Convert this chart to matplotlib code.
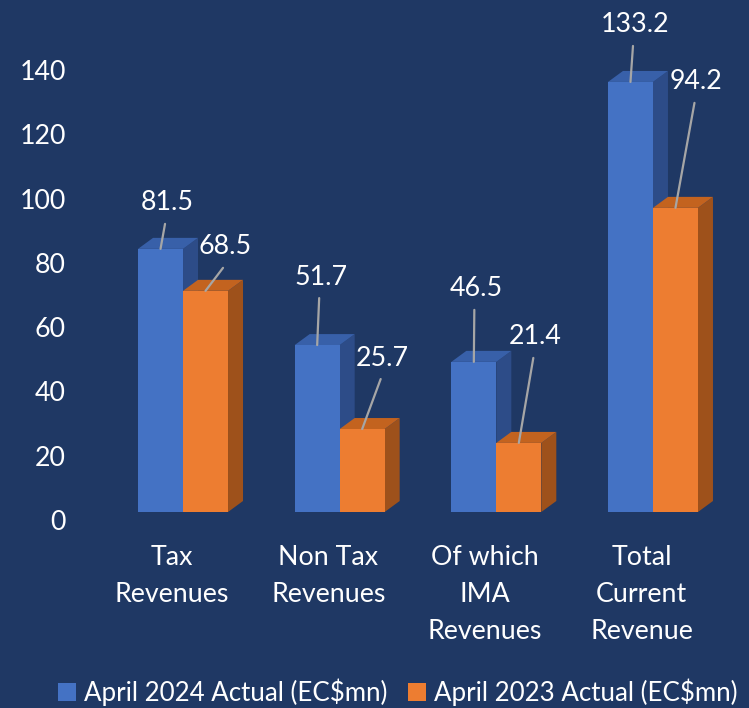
import matplotlib
matplotlib.use("Agg")
import matplotlib.pyplot as plt
from matplotlib.patches import Polygon, Patch

plt.rcParams['font.family'] = ['Lato', 'DejaVu Sans']

categories = ["Tax\nRevenues", "Non Tax\nRevenues", "Of which\nIMA\nRevenues", "Total\nCurrent\nRevenue"]
series_names = ["April 2024 Actual (EC$mn)", "April 2023 Actual (EC$mn)"]
values_2024 = [81.5, 51.7, 46.5, 133.2]
values_2023 = [68.5, 25.7, 21.4, 94.2]
yticks = [0, 20, 40, 60, 80, 100, 120, 140]

# label offsets in pixels (text centre relative to bar front-top centre)
off_2024 = [(6.5, 46), (4, 68), (2.5, 73), (4.5, 57)]
off_2023 = [(19.5, 44), (20.5, 71), (16.5, 106), (21, 126)]

BG = '#1F3864'
front = ['#4472C4', '#ED7D31']
top = ['#3860A9', '#C3631F']
side = ['#2D4C88', '#9E511B']
TXT = 'white'
FS = 19.3
LFS = 18.6

W, H = 749, 708
fig = plt.figure(figsize=(W / 100, H / 100), dpi=100, facecolor=BG)

ax_left, ax_right = 104.7, 731.3
ax_bot, ax_top = 512, 60
ax = fig.add_axes([ax_left / W, 1 - ax_bot / H, (ax_right - ax_left) / W, (ax_bot - ax_top) / H])
ax.set_facecolor('none')
ax.set_xlim(-0.5, 3.5)
ax.set_ylim(0, 140)
for s in ax.spines.values():
    s.set_visible(False)
ax.set_yticks([])

bw = 45 / 156.67
ddx = 15 / 156.67
ddy = 11 / 3.229

xs = list(range(len(categories)))
for si, vals in enumerate([values_2024, values_2023]):
    for i, v in enumerate(vals):
        x0 = i - bw + si * bw
        x1 = x0 + bw
        z = 2 + si * 3
        ax.add_patch(Polygon([(x1, 0), (x1 + ddx, ddy), (x1 + ddx, v + ddy), (x1, v)],
                             closed=True, facecolor=side[si], edgecolor='none', zorder=z))
        ax.add_patch(Polygon([(x0, v), (x1, v), (x1 + ddx, v + ddy), (x0 + ddx, v + ddy)],
                             closed=True, facecolor=top[si], edgecolor='none', zorder=z + 1))
    pos = [i - bw / 2 + si * bw for i in xs]
    ax.bar(pos, vals, width=bw, color=front[si], edgecolor='none', zorder=4 + si * 3)

# data labels with leader lines
for si, (vals, offs) in enumerate([(values_2024, off_2024), (values_2023, off_2023)]):
    for i, (v, (ox, oy)) in enumerate(zip(vals, offs)):
        xa = i - bw / 2 + si * bw
        ax.annotate('', xy=(xa, v), xytext=(ox - 2, oy - 21), textcoords='offset pixels',
                    arrowprops=dict(arrowstyle='-', color='#A6A6A6', lw=1.6,
                                    shrinkA=0, shrinkB=0), zorder=10)
        ax.annotate(f'{v}', xy=(xa, v), xytext=(ox, oy), textcoords='offset pixels',
                    ha='center', va='center', color=TXT, fontsize=FS, zorder=11,
                    annotation_clip=False)

ax.set_xticks([i - 0.073 for i in xs])
ax.set_xticklabels(categories, color=TXT, fontsize=FS, linespacing=1.6, va='top')
ax.tick_params(axis='x', length=0, pad=24)

# y tick labels on the wall scale
ax_t = fig.add_axes([ax_left / W, 1 - 520 / H, 0.01, 450 / H])
ax_t.set_facecolor('none')
for s in ax_t.spines.values():
    s.set_visible(False)
ax_t.set_ylim(0, 140)
ax_t.set_xticks([])
ax_t.set_yticks(yticks)
ax_t.set_yticklabels([str(t) for t in yticks], color=TXT, fontsize=FS)
ax_t.tick_params(axis='y', length=0, pad=28)

handles = [Patch(facecolor=front[0], edgecolor='none'), Patch(facecolor=front[1], edgecolor='none')]
fig.legend(handles, series_names, loc='center left', bbox_to_anchor=(58 / W, 1 - 692 / H),
           ncol=2, frameon=False, fontsize=LFS, labelcolor=TXT, handlelength=0.7,
           handleheight=0.7, handletextpad=0.3, columnspacing=0.8, borderaxespad=0,
           borderpad=0)

fig.savefig('out.png', dpi=100, facecolor=BG)
